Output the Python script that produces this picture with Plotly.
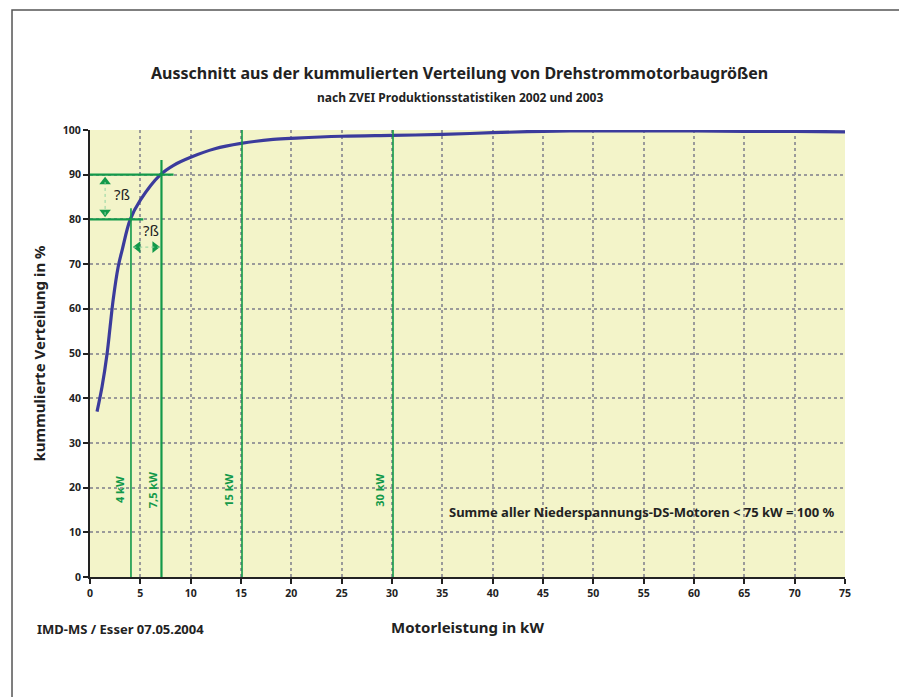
import plotly.graph_objects as go

# Data
power_kw = [0.7, 1.2, 1.7, 2.0, 2.3, 2.8, 3.2, 4.0, 5.0, 7.0, 8.3, 10, 12.4, 15, 18.2, 20.5, 25, 30, 35, 40, 45, 50, 55, 60, 65, 70, 75]
cum_pct = [37.0, 42.6, 50.0, 56.0, 62.0, 69.4, 73.2, 80.0, 84.3, 90.0, 92.1, 93.9, 95.8, 97.0, 97.9, 98.2, 98.6, 98.8, 99.0, 99.4, 99.7, 99.8, 99.8, 99.8, 99.7, 99.7, 99.6]

marker_kw = [4.07, 7.1, 15.1, 30.1]
marker_top = [82.5, 93.3, 100, 100]
marker_labels = ["4 kW", "7,5 kW", "15 kW", "30 kW"]
marker_label_x = [3.0, 6.2, 13.8, 28.8]

level_pct = [80, 90]
level_end_kw = [5.3, 8.3]

x_ticks = list(range(0, 80, 5))
y_ticks = list(range(0, 110, 10))

GREEN = "#12994a"
BLUE = "#3b3b9c"
FONT = "Noto Sans"

fig = go.Figure()

fig.add_trace(go.Scatter(x=power_kw, y=cum_pct, mode="lines",
                         line=dict(color=BLUE, width=3.2, shape="spline", smoothing=1.0),
                         hoverinfo="skip", showlegend=False))

shapes = []
for xv, top, w in zip(marker_kw, marker_top, [1.6, 2.2, 1.6, 1.6]):
    shapes.append(dict(type="line", xref="x", yref="y", x0=xv, x1=xv, y0=0, y1=top,
                       line=dict(color=GREEN, width=w), layer="above"))
for yv, xe in zip(level_pct, level_end_kw):
    shapes.append(dict(type="line", xref="x", yref="y", x0=-0.3, x1=xe, y0=yv, y1=yv,
                       line=dict(color=GREEN, width=2.2), layer="above"))
# dotted arrow shafts
shapes.append(dict(type="line", xref="x", yref="y", x0=1.5, x1=1.5, y0=81, y1=89,
                   line=dict(color="#8fd4a0", width=1, dash="dot")))
shapes.append(dict(type="line", xref="x", yref="y", x0=4.3, x1=6.9, y0=73.8, y1=73.8,
                   line=dict(color="#8fd4a0", width=1, dash="dot")))
# outer frame
shapes.append(dict(type="rect", xref="paper", yref="paper", x0=-0.1033, x1=1.0742,
                   y0=-0.35, y1=1.2685, line=dict(color="#555555", width=1.5)))

# arrow heads
fig.add_trace(go.Scatter(x=[1.5, 1.5], y=[88.4, 81.6], mode="markers",
                         marker=dict(symbol=["triangle-up", "triangle-down"], size=10, color=GREEN),
                         hoverinfo="skip", showlegend=False))
fig.add_trace(go.Scatter(x=[4.75, 6.45], y=[73.8, 73.8], mode="markers",
                         marker=dict(symbol=["triangle-left", "triangle-right"], size=10, color=GREEN),
                         hoverinfo="skip", showlegend=False))

annotations = []
for lx, lab in zip(marker_label_x, marker_labels):
    annotations.append(dict(x=lx, y=19.5, xref="x", yref="y", text=lab, showarrow=False,
                            textangle=-90, font=dict(family=FONT, size=11, color=GREEN, weight="bold")))
annotations.append(dict(x=3.2, y=85.6, xref="x", yref="y", text="?ß", showarrow=False,
                        font=dict(family=FONT, size=15, color="#222222")))
annotations.append(dict(x=6.1, y=77.6, xref="x", yref="y", text="?ß", showarrow=False,
                        font=dict(family=FONT, size=15, color="#222222")))
annotations.append(dict(x=74.2, y=14.6, xref="x", yref="y", xanchor="right",
                        text="Summe aller Niederspannungs-DS-Motoren < 75 kW = 100 %", showarrow=False,
                        font=dict(family=FONT, size=13, color="#222222", weight="bold")))
annotations.append(dict(x=0.49, y=1.1275, xref="paper", yref="paper", yanchor="middle",
                        text="Ausschnitt aus der kummulierten Verteilung von Drehstrommotorbaugrößen",
                        showarrow=False, font=dict(family=FONT, size=16, color="#222222", weight="bold")))
annotations.append(dict(x=0.49, y=1.0738, xref="paper", yref="paper", yanchor="middle",
                        text="nach ZVEI Produktionsstatistiken 2002 und 2003",
                        showarrow=False, font=dict(family=FONT, size=12, color="#222222", weight="bold")))
annotations.append(dict(x=-0.073, y=-0.117, xref="paper", yref="paper", xanchor="left", yanchor="middle",
                        text="IMD-MS / Esser 07.05.2004",
                        showarrow=False, font=dict(family=FONT, size=13, color="#222222", weight="bold")))

fig.update_layout(
    width=907, height=697,
    margin=dict(l=82, r=70, t=122, b=128),
    paper_bgcolor="white", plot_bgcolor="#f3f4c9",
    font=dict(family=FONT, color="#222222"),
    shapes=shapes, annotations=annotations,
    showlegend=False,
)
fig.update_xaxes(range=[0, 75], tickvals=x_ticks, showgrid=True, gridcolor="#9a9a9a",
                 griddash="dot", gridwidth=1.6, zeroline=False,
                 showline=True, linecolor="#222222", linewidth=2,
                 ticks="outside", ticklen=5, tickwidth=1.5, tickcolor="#222222",
                 tickfont=dict(family=FONT, size=10.5, color="#222222", weight="bold"),
                 title=dict(text="Motorleistung in kW", standoff=24,
                            font=dict(family=FONT, size=15, color="#222222", weight="bold")))
fig.update_yaxes(range=[0, 100], tickvals=y_ticks, showgrid=True, gridcolor="#9a9a9a",
                 griddash="dot", gridwidth=1.6, zeroline=False,
                 showline=True, linecolor="#222222", linewidth=2,
                 ticks="outside", ticklen=5, tickwidth=1.5, tickcolor="#222222",
                 tickfont=dict(family=FONT, size=10.5, color="#222222", weight="bold"),
                 title=dict(text="kummulierte Verteilung in %", standoff=14,
                            font=dict(family=FONT, size=15, color="#222222", weight="bold")))

fig.write_html("out.html")
